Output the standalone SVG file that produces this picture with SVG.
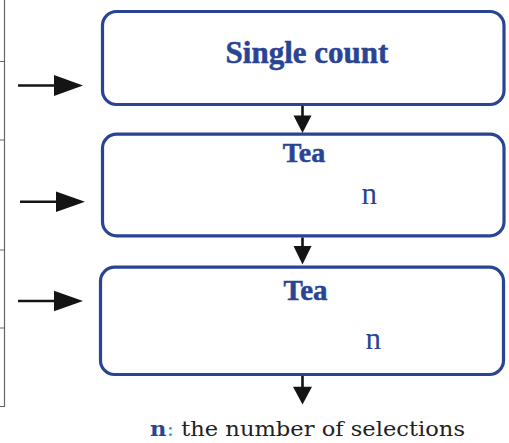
<svg xmlns="http://www.w3.org/2000/svg" width="509" height="443" viewBox="0 0 509 443">
  <style>
    .box { fill: #ffffff; stroke: #2a4494; stroke-width: 3.2; }
    .title { font-family: "Liberation Serif", "Times New Roman", serif; font-weight: bold; fill: #2a4494; stroke: #2a4494; stroke-width: 0.5; text-anchor: middle; }
    .var { font-family: "Liberation Serif", "Times New Roman", serif; fill: #2a4494; font-size: 31px; }
    .wire { stroke: #141414; stroke-width: 2.6; fill: none; }
    .head { fill: #141414; }
    .rule { stroke: #666666; stroke-width: 1.2; fill: none; }
    .note { font-family: "DejaVu Serif", "Liberation Serif", serif; font-size: 21px; fill: #222222; }
  </style>

  <!-- left margin rule with ticks -->
  <g id="margin">
    <path class="rule" d="M4.5,0 V406.5 H0"/>
    <path class="rule" d="M0,61.5 H4.5 M0,140 H4.5 M0,250 H4.5 M0,328 H4.5"/>
  </g>

  <!-- nodes -->
  <g id="single-count">
    <rect class="box" x="102.5" y="11.5" width="401.5" height="93" rx="14"/>
    <text class="title" x="307" y="63" font-size="31">Single count</text>
  </g>

  <g id="tea-1">
    <rect class="box" x="102.5" y="134.2" width="401.5" height="101.6" rx="14"/>
    <text class="title" x="304" y="161.5" font-size="28">Tea</text>
    <text class="var" x="361.5" y="204">n</text>
  </g>

  <g id="tea-2">
    <rect class="box" x="100.5" y="267.2" width="403" height="107.3" rx="14"/>
    <text class="title" x="305.5" y="299.5" font-size="29">Tea</text>
    <text class="var" x="365.5" y="349">n</text>
  </g>

  <!-- connectors -->
  <g id="connectors">
    <!-- inputs from the left -->
    <line class="wire" x1="18" y1="85.5" x2="56" y2="85.5"/>
    <polygon class="head" points="54,75 83,85.5 54,96"/>
    <line class="wire" x1="20" y1="201.7" x2="58" y2="201.7"/>
    <polygon class="head" points="56,191.5 85,201.7 56,212"/>
    <line class="wire" x1="18" y1="301" x2="56" y2="301"/>
    <polygon class="head" points="54,290.7 83,301 54,311.3"/>

    <!-- flow downward -->
    <line class="wire" x1="302.5" y1="106" x2="302.5" y2="117"/>
    <polygon class="head" points="293.5,115.5 311.5,115.5 302.5,133"/>
    <line class="wire" x1="302.5" y1="237.5" x2="302.5" y2="247"/>
    <polygon class="head" points="293.5,246 311.5,246 302.5,264.5"/>
    <line class="wire" x1="302.5" y1="376" x2="302.5" y2="388"/>
    <polygon class="head" points="293,386.7 312,386.7 302.5,404.5"/>
  </g>

  <!-- legend -->
  <text class="note" x="150" y="436" textLength="315" lengthAdjust="spacingAndGlyphs"><tspan font-weight="bold" fill="#2a4494">n</tspan><tspan fill="#2a9ad6">:</tspan> the number of selections</text>
</svg>
